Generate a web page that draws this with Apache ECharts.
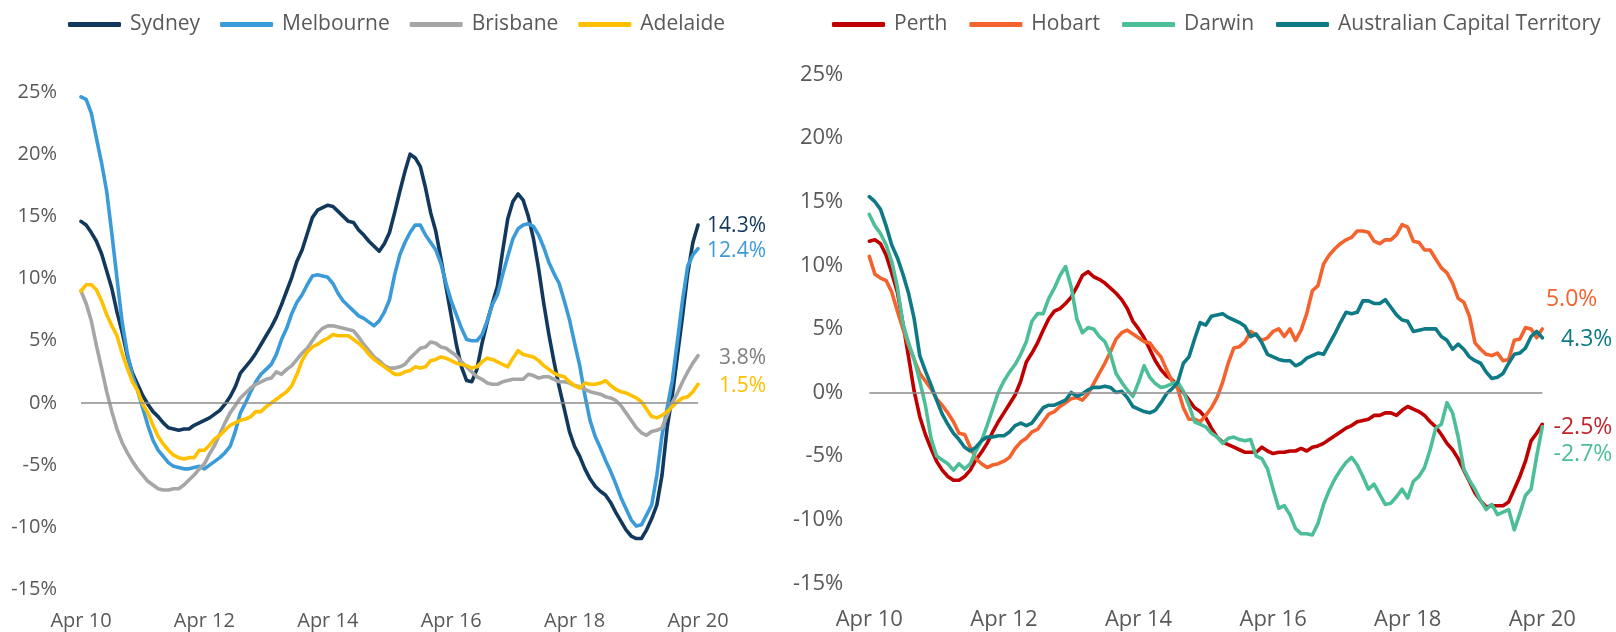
<!DOCTYPE html>
<html><head><meta charset="utf-8">
<script src="https://cdn.jsdelivr.net/npm/echarts@6/dist/echarts.min.js"></script>
<style>html,body{margin:0;padding:0;background:#fff}#c{width:1616px;height:632px}</style>
</head><body><div id="c"></div>
<script>
// ---- categories (monthly, Apr 2010 .. Apr 2020) ----
const monthNames = ['Jan','Feb','Mar','Apr','May','Jun','Jul','Aug','Sep','Oct','Nov','Dec'];
const categories = [];
for (let k = 0; k <= 120; k++) {
  const m = (3 + k) % 12, y = 10 + Math.floor((3 + k) / 12);
  categories.push(monthNames[m] + ' ' + y);
}
const yTicks = { min: -15, max: 25, interval: 5 };

// ---- left panel series (% y/y) ----
const sydney = [14.6,14.3,13.7,13.0,12.0,10.6,9.2,7.3,5.7,3.8,
 2.4,1.5,0.6,-0.1,-0.7,-1.1,-1.6,-2.0,-2.1,-2.2,
 -2.1,-2.1,-1.8,-1.6,-1.4,-1.2,-0.9,-0.6,-0.1,0.5,
 1.3,2.4,2.9,3.4,4.0,4.7,5.4,6.1,6.9,7.9,
 9.0,10.1,11.4,12.3,13.6,14.9,15.5,15.7,15.9,15.8,
 15.4,15.0,14.6,14.5,13.9,13.5,13.0,12.6,12.2,12.8,
 13.7,15.3,17.0,18.6,20.0,19.7,19.0,17.3,15.3,13.8,
 11.6,9.3,7.0,4.7,2.9,1.8,1.7,2.7,4.8,6.5,
 8.0,9.4,12.2,14.8,16.2,16.8,16.3,15.0,13.2,10.8,
 8.0,5.5,3.3,1.3,-0.5,-2.3,-3.5,-4.3,-5.3,-6.1,
 -6.7,-7.1,-7.4,-8.0,-8.8,-9.5,-10.2,-10.7,-10.9,-10.9,
 -10.2,-9.3,-8.2,-5.8,-2.0,0.6,3.8,7.0,10.4,12.9,
 14.3];
const melbourne = [24.6,24.4,23.3,21.3,19.3,17.0,13.6,10.0,6.5,4.0,
 2.2,1.0,-0.4,-1.8,-3.0,-3.8,-4.3,-4.8,-5.1,-5.2,
 -5.3,-5.3,-5.2,-5.1,-5.3,-5.0,-4.7,-4.4,-4.0,-3.5,
 -2.3,-0.8,0.0,0.9,1.7,2.3,2.7,3.1,3.9,5.1,
 6.0,7.2,8.1,8.7,9.5,10.2,10.3,10.2,10.1,9.6,
 8.8,8.2,7.8,7.4,7.0,6.8,6.5,6.2,6.6,7.3,
 8.3,10.3,11.9,12.9,13.7,14.3,14.3,13.5,12.9,12.3,
 11.2,9.6,8.2,7.1,6.0,5.1,5.0,5.0,5.5,6.6,
 7.9,8.7,10.3,11.8,13.2,14.0,14.3,14.4,14.2,13.5,
 12.5,11.3,10.4,9.6,8.2,6.7,4.8,3.0,0.6,-1.4,
 -2.7,-3.6,-4.6,-5.5,-6.5,-7.6,-8.5,-9.4,-9.9,-9.8,
 -9.0,-8.2,-5.8,-2.6,-0.4,1.8,5.0,8.3,11.0,11.9,
 12.4];
const brisbane = [9.0,8.0,6.6,4.6,2.8,0.9,-0.7,-2.1,-3.2,-4.0,
 -4.7,-5.3,-5.8,-6.3,-6.6,-6.9,-7.0,-7.0,-6.9,-6.9,
 -6.6,-6.2,-5.8,-5.3,-4.9,-4.1,-3.4,-2.5,-1.6,-0.8,
 -0.2,0.4,0.8,1.2,1.5,1.7,1.9,2.0,2.5,2.3,
 2.7,3.0,3.5,4.0,4.4,5.0,5.6,6.0,6.2,6.2,
 6.1,6.0,5.9,5.8,5.3,4.7,4.2,3.7,3.4,3.0,
 2.8,2.8,2.9,3.1,3.6,4.0,4.4,4.5,4.9,4.8,
 4.5,4.4,4.1,3.8,3.3,2.9,2.5,2.1,1.9,1.6,
 1.5,1.5,1.7,1.8,1.9,1.9,1.9,2.3,2.2,2.0,
 2.1,2.1,1.9,1.7,1.7,1.6,1.4,1.3,1.1,0.9,
 0.8,0.7,0.5,0.4,0.2,-0.2,-0.8,-1.4,-2.0,-2.4,
 -2.6,-2.3,-2.2,-2.0,-1.0,0.0,0.8,1.7,2.5,3.2,
 3.8];
const adelaide = [9.0,9.5,9.5,9.1,8.2,7.1,6.2,5.4,4.0,2.8,
 1.7,1.0,-0.1,-0.8,-1.8,-2.7,-3.3,-3.8,-4.2,-4.4,
 -4.5,-4.4,-4.4,-3.8,-3.8,-3.4,-2.9,-2.6,-2.2,-1.8,
 -1.6,-1.4,-1.3,-1.1,-0.7,-0.7,-0.3,0.0,0.3,0.6,
 0.9,1.4,2.3,3.4,4.1,4.5,4.7,5.0,5.2,5.5,
 5.4,5.4,5.4,5.1,4.8,4.4,3.9,3.5,3.2,2.9,
 2.6,2.3,2.3,2.5,2.6,2.9,2.8,2.9,3.4,3.5,
 3.7,3.6,3.4,3.2,3.1,3.0,2.8,2.9,3.3,3.6,
 3.5,3.3,3.1,2.9,3.6,4.2,3.9,3.8,3.7,3.4,
 3.0,2.7,2.4,2.2,2.1,1.7,1.4,1.2,1.6,1.5,
 1.5,1.6,1.8,1.4,1.1,0.9,0.8,0.6,0.4,0.1,
 -0.5,-1.1,-1.2,-1.0,-0.7,-0.3,0.1,0.4,0.5,0.9,
 1.5];

// ---- right panel series (% y/y) ----
const perth = [11.9,12.0,11.7,10.8,9.4,7.9,5.4,2.8,0.1,-1.9,
 -3.3,-4.4,-5.4,-6.1,-6.6,-6.9,-6.9,-6.6,-6.1,-5.3,
 -4.7,-4.0,-3.1,-2.3,-1.6,-0.9,-0.2,0.9,2.4,3.1,
 3.9,4.9,5.8,6.4,6.6,7.0,7.5,8.3,9.2,9.5,
 9.1,8.9,8.6,8.2,7.8,7.3,6.6,5.6,5.0,4.3,
 3.4,2.5,1.8,1.3,1.0,0.5,0.0,-0.6,-1.2,-1.5,
 -2.0,-2.8,-3.5,-3.9,-4.1,-4.3,-4.5,-4.7,-4.7,-4.7,
 -4.3,-4.6,-4.8,-4.7,-4.7,-4.6,-4.6,-4.4,-4.6,-4.3,
 -4.2,-4.0,-3.7,-3.4,-3.1,-2.8,-2.6,-2.3,-2.2,-2.1,
 -1.8,-1.8,-1.6,-1.6,-1.8,-1.4,-1.1,-1.3,-1.5,-1.8,
 -2.3,-2.7,-3.3,-4.0,-4.5,-5.2,-6.1,-7.0,-7.9,-8.5,
 -9.0,-8.9,-8.9,-8.9,-8.6,-7.6,-6.6,-5.4,-3.8,-3.2,
 -2.5];
const hobart = [10.7,9.3,9.0,8.8,7.9,6.4,5.0,3.7,2.6,1.5,
 0.9,0.3,-0.5,-1.0,-1.6,-2.3,-3.2,-3.3,-4.3,-5.2,
 -5.6,-5.9,-5.7,-5.6,-5.4,-5.1,-4.4,-3.9,-3.6,-3.1,
 -2.9,-2.3,-1.7,-1.5,-1.1,-0.8,-0.5,-0.4,-0.6,-0.1,
 0.7,1.5,2.3,3.2,4.2,4.7,4.9,4.6,4.3,4.0,
 3.9,3.3,2.8,1.8,0.9,0.3,-1.2,-2.1,-2.1,-2.3,
 -1.8,-1.2,-0.4,0.8,2.3,3.5,3.6,4.0,4.8,4.5,
 4.1,4.3,4.8,5.0,4.4,5.0,4.1,4.9,6.2,8.0,
 8.4,10.1,10.8,11.3,11.7,12.0,12.2,12.7,12.7,12.6,
 11.9,11.7,12.0,12.0,12.4,13.2,13.0,11.9,11.8,11.2,
 11.2,10.5,9.8,9.4,8.6,7.4,7.1,6.0,3.9,3.4,
 3.0,2.9,3.1,2.5,2.6,4.1,4.2,5.1,5.0,4.3,
 5.0];
const darwin = [14.0,13.1,12.5,11.6,10.3,8.3,5.4,3.9,2.6,0.9,
 -1.0,-3.6,-5.0,-5.3,-5.6,-6.1,-5.6,-6.0,-5.6,-4.6,
 -3.8,-2.6,-1.3,0.0,0.9,1.6,2.2,3.0,4.0,5.6,
 6.2,6.2,7.4,8.2,9.2,9.9,8.3,5.8,4.7,5.1,
 5.0,4.4,4.0,3.0,1.5,0.8,0.2,-0.3,0.8,2.1,
 1.2,0.7,0.4,0.5,0.7,0.8,0.1,-1.0,-2.3,-2.5,
 -2.7,-3.2,-3.5,-4.0,-3.6,-3.5,-3.7,-3.8,-3.7,-5.0,
 -5.2,-6.0,-7.6,-9.1,-8.9,-9.6,-10.7,-11.1,-11.1,-11.2,
 -10.3,-8.8,-7.7,-6.8,-6.1,-5.5,-5.1,-5.7,-6.6,-7.6,
 -7.2,-8.0,-8.8,-8.7,-8.2,-7.6,-8.3,-7.0,-6.6,-5.9,
 -4.5,-2.8,-2.5,-0.8,-1.6,-3.5,-6.0,-6.9,-7.6,-8.5,
 -9.2,-8.8,-9.6,-9.4,-9.2,-10.8,-9.5,-8.1,-7.6,-5.0,
 -2.7];
const act = [15.4,15.0,14.4,13.1,11.6,10.6,9.3,7.8,5.8,2.9,
 1.7,0.6,-0.6,-1.7,-2.5,-3.2,-3.7,-4.3,-4.6,-4.3,
 -3.8,-3.5,-3.5,-3.4,-3.4,-3.1,-2.6,-2.4,-2.6,-2.4,
 -1.8,-1.2,-1.0,-1.0,-0.8,-0.6,0.0,-0.3,-0.1,0.2,
 0.4,0.4,0.5,0.4,0.0,0.1,-0.4,-1.1,-1.3,-1.5,
 -1.6,-1.4,-0.8,-0.1,0.3,0.8,2.3,2.8,4.2,5.5,
 5.3,6.0,6.1,6.2,5.9,5.7,5.5,5.2,4.4,4.6,
 3.9,3.0,2.8,2.6,2.5,2.5,2.1,2.3,2.7,2.9,
 3.1,3.0,3.8,4.6,5.5,6.3,6.2,6.3,7.2,7.2,
 7.0,7.0,7.3,6.7,6.1,5.7,5.6,4.8,4.9,5.0,
 5.0,5.0,4.4,4.1,3.4,3.8,3.4,2.8,2.5,2.3,
 1.6,1.1,1.2,1.5,2.3,3.0,3.1,3.5,4.4,4.8,
 4.3];

const FONT = '"Open Sans", "Noto Sans", sans-serif';
const TXT = '#595959';

function mkSeries(name, data, color, grid, labelColor, fontSize, off, withZero) {
  const last = data.length - 1;
  const s = {
    name, type: 'line', data, xAxisIndex: grid, yAxisIndex: grid,
    symbol: 'none', color,
    lineStyle: { width: 3.6, color, cap: 'round', join: 'round' },
    emphasis: { disabled: true }, animation: false,
    markPoint: {
      silent: true, animation: false,
      symbol: 'circle', symbolSize: 1, itemStyle: { color: 'rgba(0,0,0,0)' },
      data: [{ coord: [last, data[last]], value: data[last] }],
      label: {
        show: true, position: 'inside', align: 'right', offset: off,
        formatter: () => data[last].toFixed(1) + '%',
        color: labelColor, fontSize, fontFamily: FONT
      }
    }
  };
  if (withZero) {
    s.markLine = {
      silent: true, animation: false, symbol: ['none', 'none'],
      label: { show: false },
      lineStyle: { color: '#8c8c8c', width: 1.6, type: 'solid' },
      data: [{ yAxis: 0 }]
    };
  }
  return s;
}

const legendBase = {
  icon: 'roundRect', itemWidth: 53, itemHeight: 5, top: 9,
  textStyle: { fontFamily: FONT, fontSize: 21, color: TXT, padding: [0, 0, 0, 4] },
  selectedMode: false
};

const xAxisBase = (grid, fs, margin) => ({
  type: 'category', gridIndex: grid, data: categories, boundaryGap: false,
  axisLine: { show: false, onZero: false }, axisTick: { show: false },
  splitLine: { show: false },
  axisLabel: { interval: 23, color: TXT, fontSize: fs, fontFamily: FONT, margin }
});
const yAxisBase = (grid, fs, margin) => ({
  type: 'value', gridIndex: grid, min: yTicks.min, max: yTicks.max, interval: yTicks.interval,
  splitLine: { show: false }, axisLine: { show: false }, axisTick: { show: false },
  axisLabel: { formatter: '{value}%', color: TXT, fontSize: fs, fontFamily: FONT, margin }
});

const option = {
  backgroundColor: '#fff',
  animation: false,
  legend: [
    Object.assign({}, legendBase, { left: 63, itemGap: 20, data: ['Sydney', 'Melbourne', 'Brisbane', 'Adelaide'] }),
    Object.assign({}, legendBase, { left: 827, itemGap: 22, data: ['Perth', 'Hobart', 'Darwin', 'Australian Capital Territory'] })
  ],
  grid: [
    { left: 81, top: 92, width: 617, height: 497.5 },
    { left: 869.3, top: 74.5, width: 673, height: 508.8 }
  ],
  xAxis: [xAxisBase(0, 20, 22), xAxisBase(1, 22, 25)],
  yAxis: [yAxisBase(0, 20, 24), yAxisBase(1, 22, 26)],
  series: [
    mkSeries('Sydney', sydney, '#12395d', 0, '#12395d', 21, [68, 1], true),
    mkSeries('Melbourne', melbourne, '#3b9bd8', 0, '#3b9bd8', 21, [68, 2], false),
    mkSeries('Brisbane', brisbane, '#a6a6a6', 0, '#7f7f7f', 21, [68, 2], false),
    mkSeries('Adelaide', adelaide, '#ffc000', 0, '#ffc000', 21, [68, 2], false),
    mkSeries('Perth', perth, '#c00000', 1, '#c0262b', 23, [70, 3], true),
    mkSeries('Hobart', hobart, '#f4632e', 1, '#f4632e', 23, [55, -29], false),
    mkSeries('Darwin', darwin, '#4dbf98', 1, '#4dbf98', 23, [70, 28], false),
    mkSeries('Australian Capital Territory', act, '#0e7a85', 1, '#0e7a85', 23, [70, 2], false)
  ]
};

const chart = echarts.init(document.getElementById('c'));
chart.setOption(option);
</script>
</body></html>
